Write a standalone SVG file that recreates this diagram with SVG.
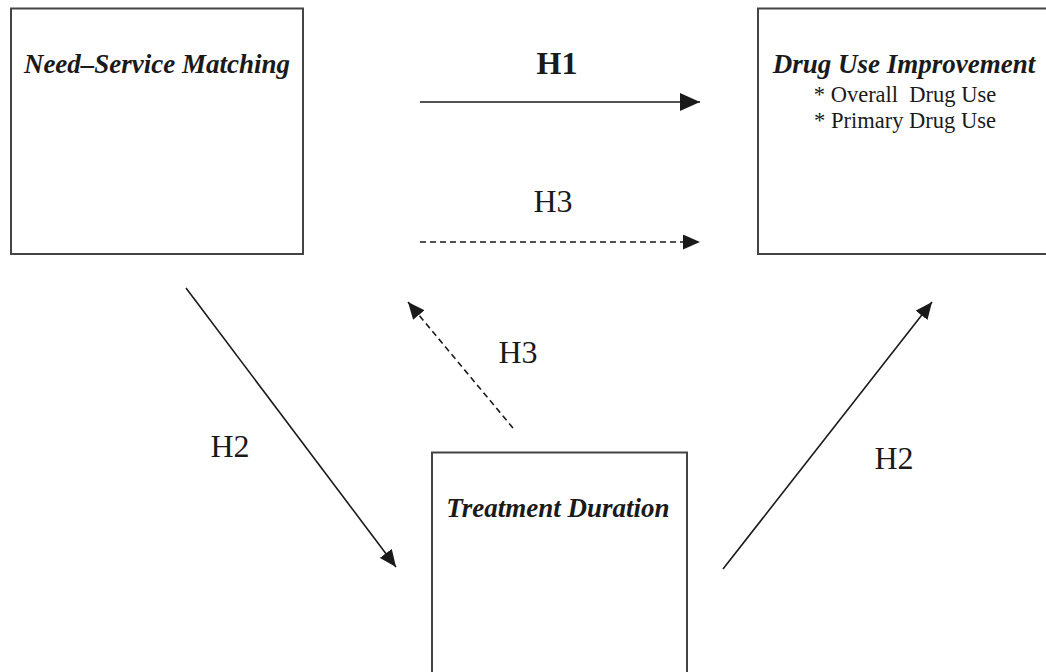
<svg xmlns="http://www.w3.org/2000/svg" width="1046" height="672" viewBox="0 0 1046 672">
<defs>
<style>
.box{fill:#fff;stroke:#444;stroke-width:2}
.title{font-family:"Liberation Serif",serif;font-weight:bold;font-style:italic;font-size:27px;fill:#1a1a1a;text-anchor:middle}
.sub{font-family:"Liberation Serif",serif;font-size:22.5px;fill:#1a1a1a;text-anchor:middle;white-space:pre}
.lbl{font-family:"Liberation Serif",serif;font-size:32px;fill:#1a1a1a;text-anchor:middle}
.conn{fill:none;stroke:#1a1a1a;stroke-width:1.6}
.dash{stroke-dasharray:6 4}
</style>
<marker id="ahBig" markerUnits="userSpaceOnUse" markerWidth="20" markerHeight="18" refX="20" refY="9" orient="auto" viewBox="0 0 20 18">
<path d="M0,0 L20,9 L0,18 z" fill="#1a1a1a"/>
</marker>
<marker id="ah" markerUnits="userSpaceOnUse" markerWidth="17" markerHeight="15" refX="17" refY="7.5" orient="auto" viewBox="0 0 17 15">
<path d="M0,0 L17,7.5 L0,15 z" fill="#1a1a1a"/>
</marker>
</defs>
<rect width="1046" height="672" fill="#fff"/>
<g id="node-need">
<rect class="box" x="11" y="8.5" width="292" height="245.5"/>
<text class="title" x="157" y="73">Need–Service Matching</text>
</g>
<g id="node-drug">
<rect class="box" x="758" y="8.5" width="300" height="245.5"/>
<text class="title" x="904" y="73">Drug Use Improvement</text>
<text class="sub" x="905" y="102" xml:space="preserve">* Overall  Drug Use</text>
<text class="sub" x="905" y="128">* Primary Drug Use</text>
</g>
<g id="node-treatment">
<rect class="box" x="432" y="452.5" width="255" height="240"/>
<text class="title" x="558" y="517">Treatment Duration</text>
</g>
<g id="connectors">
<line class="conn" x1="420" y1="102" x2="700" y2="102" stroke-width="2.6" marker-end="url(#ahBig)"/>
<line class="conn dash" x1="420" y1="242" x2="700" y2="242" marker-end="url(#ah)"/>
<line class="conn dash" x1="513" y1="428" x2="408" y2="302" marker-end="url(#ah)"/>
<line class="conn" x1="186" y1="288" x2="396" y2="567" marker-end="url(#ah)"/>
<line class="conn" x1="723" y1="569" x2="932" y2="302" marker-end="url(#ah)"/>
<text class="lbl" x="557" y="74" font-weight="bold">H1</text>
<text class="lbl" x="553" y="212">H3</text>
<text class="lbl" x="518" y="363">H3</text>
<text class="lbl" x="230" y="457">H2</text>
<text class="lbl" x="894" y="469">H2</text>
</g>
</svg>
